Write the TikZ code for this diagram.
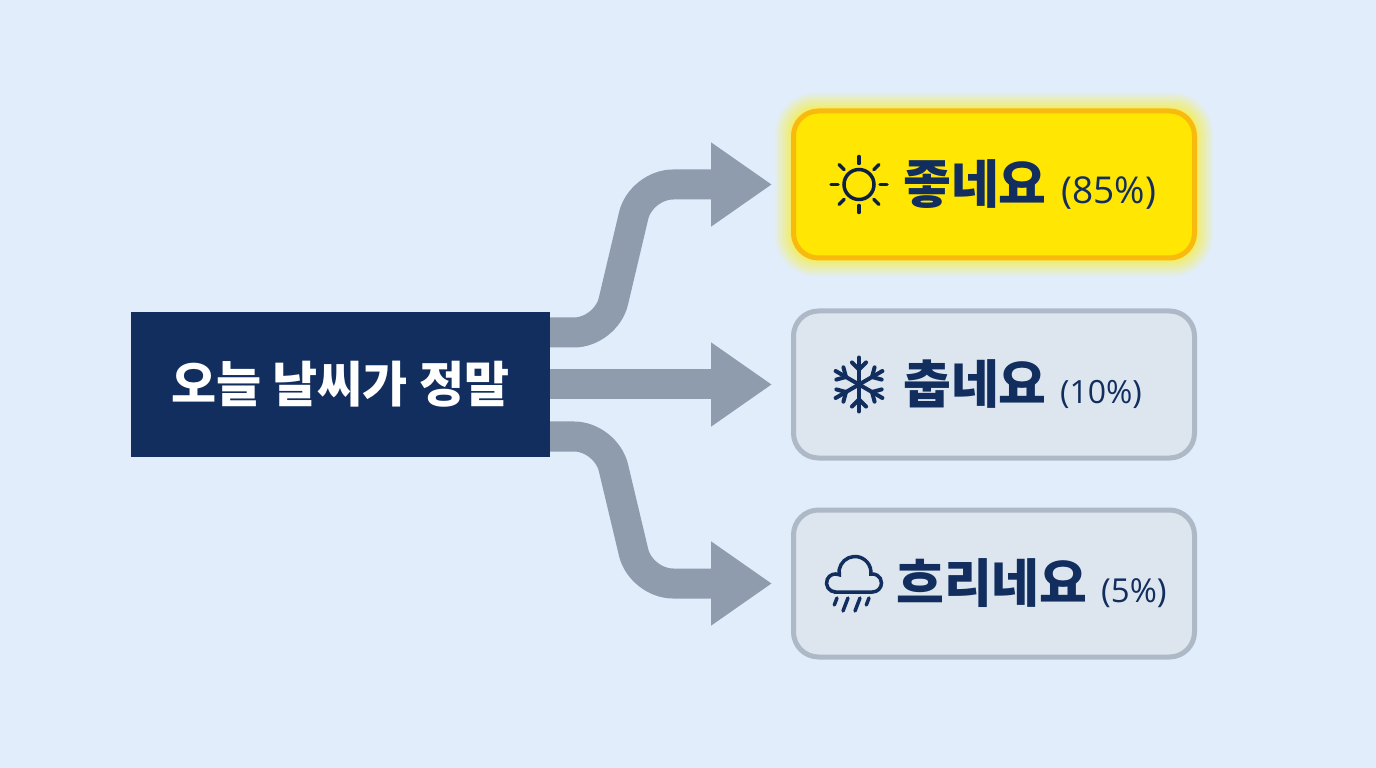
\documentclass[tikz,border=0pt]{standalone}
\usepackage{fontspec}
\newfontfamily\krfont{Noto Sans CJK KR}[BoldFont=* Black]
\newfontfamily\pctfont{Open Sans}
\newcommand{\pcttxt}[2]{\hspace{5pt}{\pctfont\mdseries\fontsize{#1}{40}\selectfont #2}}
\usepackage{tikz}
\usetikzlibrary{shapes,arrows.meta,backgrounds}
\definecolor{pageBG}{HTML}{E1EDFA}
\definecolor{navy}{HTML}{112E5E}
\definecolor{arrowGR}{HTML}{8F9CAE}
\definecolor{boxGR}{HTML}{DDE5EF}
\definecolor{edgeGR}{HTML}{AEB9C8}
\definecolor{boxYL}{HTML}{FFE603}
\definecolor{edgeYL}{HTML}{F8BA0C}
\definecolor{glowYL}{HTML}{FBF04A}
\tikzstyle{blockQ} = [rectangle, fill=navy, text=white, minimum width=419pt, minimum height=145pt, inner sep=0pt, outer sep=0pt, font=\krfont\bfseries\fontsize{49}{55}\selectfont]
\tikzstyle{blockGR} = [rectangle, draw=edgeGR, fill=boxGR, line width=5pt, rounded corners=25pt, minimum width=401pt, minimum height=147pt]
\tikzstyle{blockYL} = [blockGR, draw=edgeYL, fill=boxYL]
\tikzstyle{word} = [anchor=west, inner sep=0pt, text=navy, font=\krfont\bfseries\fontsize{52}{58}\selectfont]
\tikzstyle{icon} = [line width=3.5pt, line cap=round]
\tikzstyle{line} = [draw=arrowGR, line width=30pt, shorten >=19pt, rounded corners=32pt, -{Triangle[length=61pt,width=80pt]}]

\begin{document}
\begin{tikzpicture}[x=1pt, y=1pt, node distance = 200pt]
    % nodes
    \node [blockQ] (quote) {오늘 날씨가 정말};
    \node [blockGR, right of = quote, node distance = 653.5pt] (cold) {};
    \node [blockYL, above of = cold] (good) {};
    \node [blockGR, below of = cold, node distance = 199pt] (cloudy) {};

    % labels
    \node [word, xshift=112pt] (good_txt) at (good.west) {좋네요\pcttxt{37}{ (85\%)}};
    \node [word, xshift=112pt] (cold_txt) at (cold.west) {춥네요\pcttxt{32}{ (10\%)}};
    \node [word, xshift=105pt] (cloudy_txt) at (cloudy.west) {흐리네요\pcttxt{33}{ (5\%)}};

    % background and glow
    \begin{pgfonlayer}{background}
      \fill [pageBG] (-340.5,-383.5) rectangle (1035.5,384.5);
      \foreach \g in {1,...,14}
        \draw [glowYL, opacity=0.11, line width=\g*\g*0.16pt, rounded corners=25pt] (good.south west) rectangle (good.north east);
    \end{pgfonlayer}

    % edges
    \path [line] ([yshift=52pt]quote.east) -- ++(56,0) -- ([xshift=-150pt]good.west) -- (good.west);
    \path [line] (quote.east) -- (cold.west);
    \path [line] ([yshift=-52pt]quote.east) -- ++(56,0) -- ([xshift=-150pt]cloudy.west) -- (cloudy.west);

    % icons
    \begin{scope}[shift={([xshift=-135pt]good.center)}, icon, draw=navy!70!black]
      \draw (0,0) circle (15);
      \foreach \a in {0,45,...,315}
        \draw (\a:21) -- (\a:28);
    \end{scope}
    \begin{scope}[shift={([xshift=-135pt]cold.center)}, icon, draw=navy, line width=4pt]
      \foreach \a in {30,90,...,330} {
        \draw (0,0) -- (\a:27);
        \draw (\a:15) -- ++(\a+45:10);
        \draw (\a:15) -- ++(\a-45:10);
      }
    \end{scope}
    \begin{scope}[shift={([xshift=-140pt]cloudy.center)}, icon, draw=navy]
      \draw (-18.5,-8.5) -- (18.5,-8.5) arc (-90:100:9) -- (16.9,12.4) arc (5:170:16) -- (-14.7,8.7) arc (65:270:9) -- cycle;
      \draw (-17,-14.5) -- ++(-2.7,-7);
      \draw (-6,-14.5) -- ++(-5,-13);
      \draw (6,-14.5) -- ++(-5,-13);
      \draw (15,-14.5) -- ++(-2.7,-7);
    \end{scope}
\end{tikzpicture}
\end{document}
